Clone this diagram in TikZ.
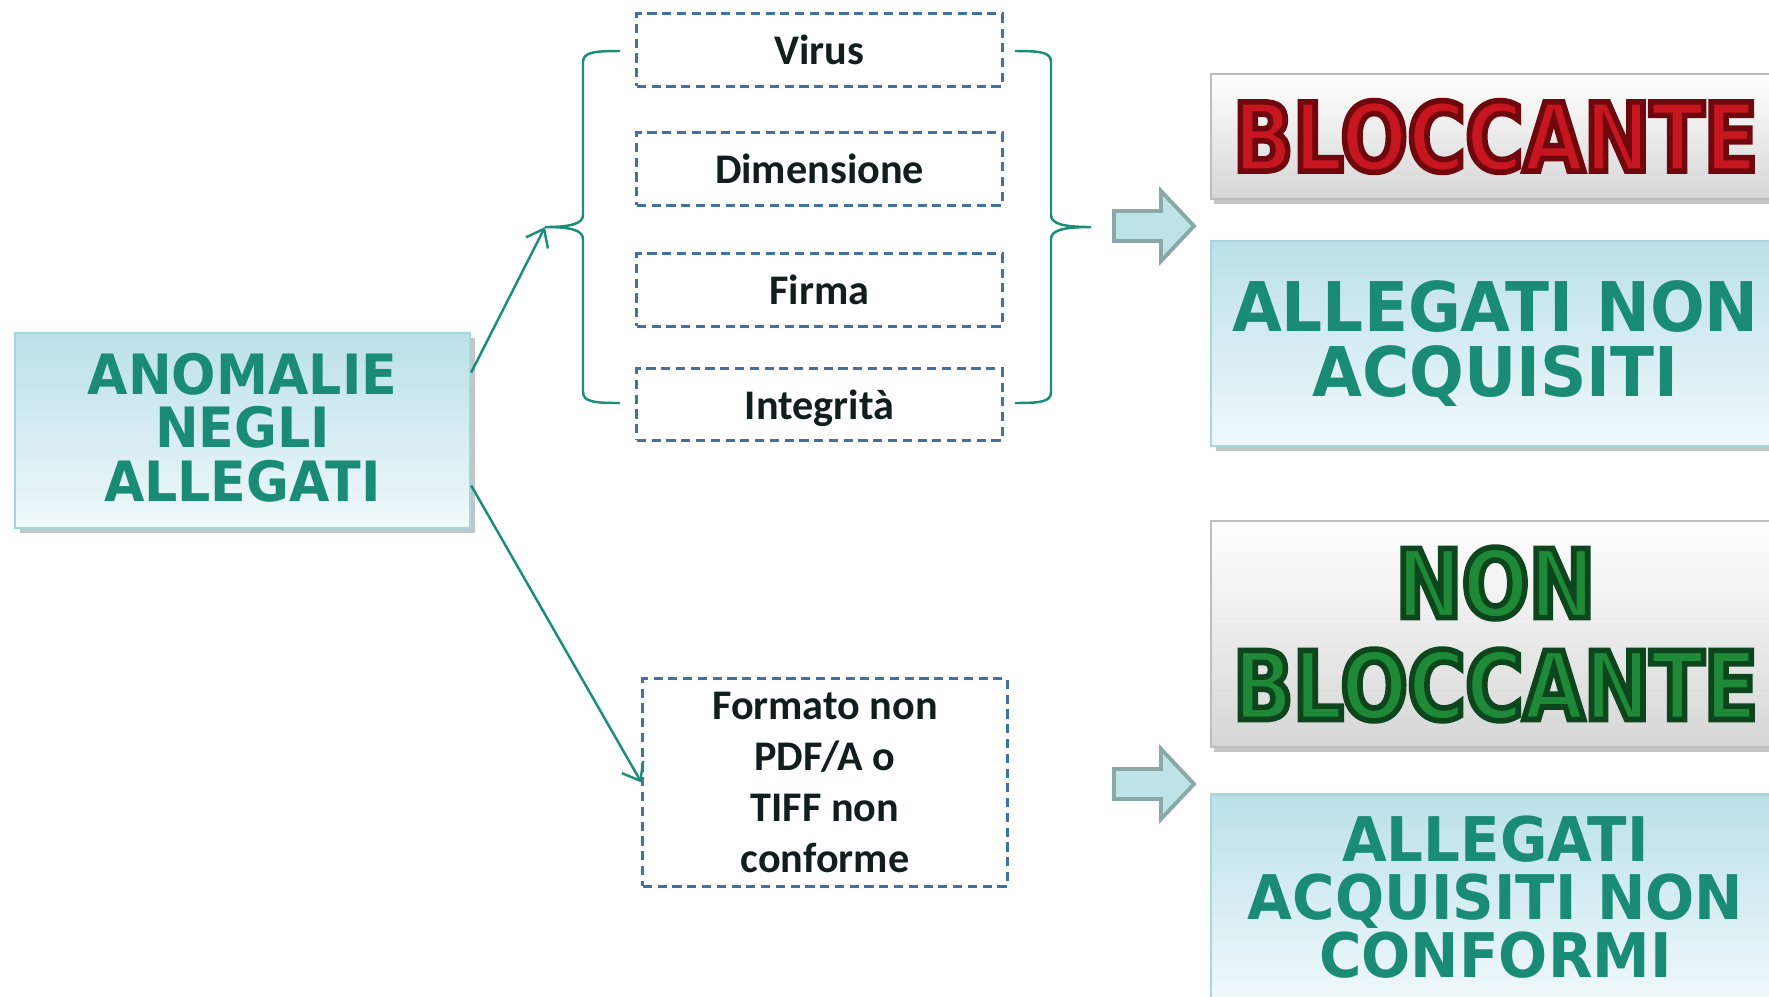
\documentclass[tikz,border=0pt]{standalone}
\usepackage{fontspec}
\setmainfont{DejaVu Sans}[FakeStretch=0.94]
\newfontfamily\calfont{Carlito}
\newfontfamily\heavyfont{DejaVu Sans}[FakeStretch=0.83]
\usetikzlibrary{arrows.meta,shadows}

\definecolor{vertanom}{RGB}{26,140,118}
\definecolor{vertlien}{RGB}{27,142,121}
\definecolor{cielhaut}{RGB}{186,225,232}
\definecolor{cielbas}{RGB}{240,248,251}
\definecolor{cielbord}{RGB}{168,214,222}
\definecolor{bleutir}{RGB}{68,114,160}
\definecolor{noirtxt}{RGB}{18,30,30}
\definecolor{grisbas}{RGB}{214,214,214}
\definecolor{grisbord}{RGB}{190,190,190}
\definecolor{rouge}{RGB}{200,22,32}
\definecolor{vertbloc}{RGB}{30,138,56}
\definecolor{flechefond}{RGB}{189,227,232}
\definecolor{flechebord}{RGB}{138,168,168}

% lettere con bordo (fill + stroke)
\newcommand\contorno[2]{\special{pdf:literal direct 2 Tr 1.6 w #1 RG}#2\special{pdf:literal direct 0 Tr}}

\tikzset{
	titre/.style={draw=cielbord, line width=0.6pt, top color=cielhaut, bottom color=cielbas,
		drop shadow={shadow xshift=1.5pt, shadow yshift=-1.5pt, fill=black!45},
		text=vertanom, align=center, inner sep=0pt},
	cause/.style={draw=bleutir, dash pattern=on 2.6pt off 1.6pt, line width=0.85pt,
		minimum width=3.65cm, text=noirtxt, align=center, inner sep=0pt,
		font=\calfont\bfseries\fontsize{12}{14.5}\selectfont},
	esito/.style={draw=grisbord, line width=0.6pt, top color=white, bottom color=grisbas,
		drop shadow={shadow xshift=1pt, shadow yshift=-1.5pt, fill=black!45},
		align=center, inner sep=0pt},
	lien/.style={draw=vertlien, line width=0.7pt},
	fleche/.style={draw=flechebord, fill=flechefond, line width=1.1pt, line join=miter}
}

\begin{document}
\begin{tikzpicture}[x=0.01cm,y=-0.01cm,>={Straight Barb[length=4.5pt,width=7pt]}]
	\def\xd{819.5}
	\def\xr{1495.5}

	\useasboundingbox (0,0) rectangle (1769,996);
	\clip (0,0) rectangle (1769,996);

	% anomalie
	\node[titre, minimum width=4.55cm, minimum height=1.95cm,
		font=\bfseries\fontsize{15.8}{15.2}\selectfont] (anom) at (242.5,430.5)
		{ANOMALIE\\NEGLI\\ALLEGATI\rule[-2pt]{0pt}{0pt}};

	% cause bloccanti
	\node[cause, minimum height=0.72cm] (virus) at (\xd,50) {Virus};
	\node[cause, minimum height=0.72cm] (dim) at (\xd,169) {Dimensione};
	\node[cause, minimum height=0.72cm] (firma) at (\xd,290) {Firma};
	\node[cause, minimum height=0.71cm, text depth=0pt] (integ) at (\xd,404.5) {Integrità};

	% causa non bloccante
	\node[cause, minimum width=3.64cm, minimum height=2.07cm] (formato) at (825,782.5)
		{Formato non\\PDF/A o\\TIFF non\\conforme};

	% graffe
	\coordinate (lpointe) at (545,227);
	\coordinate (rpointe) at (1091,227);
	\draw[lien] (620,51) .. controls (595,51) and (583,52) .. (583,62) -- (583,215)
		.. controls (583,224) and (570,227) .. (lpointe)
		.. controls (570,227) and (583,230) .. (583,239) -- (583,392)
		.. controls (583,402) and (595,403) .. (620,403);
	\draw[lien] (1015,51) .. controls (1040,51) and (1051,52) .. (1051,62) -- (1051,215)
		.. controls (1051,224) and (1064,227) .. (rpointe)
		.. controls (1064,227) and (1051,230) .. (1051,239) -- (1051,392)
		.. controls (1051,402) and (1040,403) .. (1015,403);

	% frecce
	\draw[lien,->] ([yshift=0.58cm]anom.east) -- (lpointe);
	\draw[lien,->] ([yshift=-0.55cm]anom.east) -- (formato.west);

	% frecce blocco
	\foreach \yc in {226,784} {
		\draw[fleche] (1114,\yc-15) -- (1161,\yc-15) -- (1161,\yc-35) -- (1194,\yc)
			-- (1161,\yc+35) -- (1161,\yc+15) -- (1114,\yc+15) -- cycle;
	}

	% esiti
	\node[esito, minimum width=5.69cm, minimum height=1.25cm, text=rouge,
		font=\heavyfont\bfseries\fontsize{27}{28.7}\selectfont] (bloc) at (\xr,136.5)
		{\contorno{0.43 0.03 0.05}{BLOCCANTE}};
	\node[titre, minimum width=5.69cm, minimum height=2.05cm,
		font=\bfseries\fontsize{19.5}{18.6}\selectfont] (acq) at (\xr,343.5)
		{ALLEGATI NON\\ACQUISITI};
	\node[esito, minimum width=5.69cm, minimum height=2.26cm, text=vertbloc,
		font=\heavyfont\bfseries\fontsize{27}{29}\selectfont] (nonbloc) at (\xr,634)
		{\contorno{0.05 0.27 0.11}{NON}\\\contorno{0.05 0.27 0.11}{BLOCCANTE}};
	\node[titre, minimum width=5.69cm, minimum height=2.05cm,
		font=\bfseries\fontsize{17.5}{16.4}\selectfont] (acqnc) at (\xr,897)
		{ALLEGATI\\ACQUISITI NON\\CONFORMI};

\end{tikzpicture}
\end{document}
